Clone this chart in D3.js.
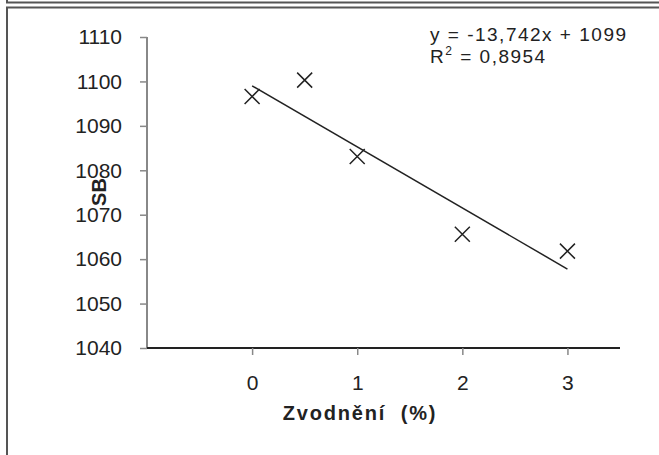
<!DOCTYPE html>
<html><head><meta charset="utf-8">
<script src="https://cdn.jsdelivr.net/npm/d3@7"></script>
<style>body{margin:0;background:#fff}svg{display:block;font-family:"Liberation Sans",Arial,sans-serif}</style>
</head><body>
<script>
const xValues = [0, 0.5, 1, 2, 3];
const yValues = [1096.6, 1100.3, 1083.1, 1065.6, 1061.8];
const xTicks = [0, 1, 2, 3];
const yTicks = [1040, 1050, 1060, 1070, 1080, 1090, 1100, 1110];
const trendSlope = -13.742;
const trendIntercept = 1099;
const eqLabel = "y = -13,742x + 1099";
const r2Label = "0,8954";
const xTitle = "Zvodnění  (%)";
const yTitle = "SB";

const W = 659, H = 455;
const FONT = "Liberation Sans, Arial, sans-serif";
const svg = d3.select("body").append("svg").attr("width", W).attr("height", H);

// frames
svg.append("path").attr("d", "M7,0V2.5H659").attr("fill","none").attr("stroke","#555").attr("stroke-width",2);
svg.append("path").attr("d", "M7,"+H+"V7.5H659").attr("fill","none").attr("stroke","#555").attr("stroke-width",2);

const x = d3.scaleLinear().domain([-1, 3.5]).range([147, 620]);
const y = d3.scaleLinear().domain([1040, 1110]).range([348, 37]);

// y axis
const ya = svg.append("g").attr("transform", "translate(147,0)")
  .call(d3.axisLeft(y).tickValues(yTicks).tickSize(7).tickPadding(18).tickFormat(d3.format("d")));
ya.attr("font-size", null).attr("font-family", null);
ya.select(".domain").attr("stroke","#888").attr("stroke-width",2).attr("d","M0,"+y(1110)+"V"+y(1040));
ya.selectAll(".tick line").attr("stroke","#888").attr("stroke-width",1.5);
ya.selectAll(".tick text").style("font-size","21px").attr("fill","#222").style("font-family",FONT);

// x axis
const xa = svg.append("g").attr("transform", "translate(0,348)")
  .call(d3.axisBottom(x).tickValues(xTicks).tickSize(7).tickPadding(20).tickFormat(d3.format("d")));
xa.attr("font-size", null).attr("font-family", null);
xa.select(".domain").attr("stroke","#222").attr("stroke-width",2).attr("d","M"+x(-1)+",0H"+x(3.5));
xa.selectAll(".tick line").attr("stroke","#888").attr("stroke-width",1.5);
xa.selectAll(".tick text").style("font-size","21px").attr("fill","#222").style("font-family",FONT);

// trend line
svg.append("line")
  .attr("x1", x(0)).attr("y1", y(trendIntercept))
  .attr("x2", x(3)).attr("y2", y(trendIntercept + trendSlope*3))
  .attr("stroke","#222").attr("stroke-width",1.5);

// markers
const s = 7.5;
svg.append("g").selectAll("path").data(xValues.map((v,i)=>[v,yValues[i]])).join("path")
  .attr("d", d => { const cx = x(d[0]), cy = y(d[1]);
    return `M${cx-s},${cy-s}L${cx+s},${cy+s}M${cx-s},${cy+s}L${cx+s},${cy-s}`; })
  .attr("stroke","#222").attr("stroke-width",1.5).attr("fill","none");

// titles
svg.append("text").attr("x", 360).attr("y", 420).attr("text-anchor","middle")
  .style("font-size","20px").attr("font-weight","bold").attr("fill","#222")
  .style("white-space","pre").style("letter-spacing","1.8px").text(xTitle);
svg.append("text").attr("transform","translate(106,192) rotate(-90)").attr("text-anchor","middle")
  .style("font-size","20px").attr("font-weight","bold").attr("fill","#222").text(yTitle);

// equation
svg.append("text").attr("x", 430).attr("y", 41).style("font-size","19px").style("letter-spacing","1.5px")
  .attr("fill","#222").text(eqLabel);
const r = svg.append("text").attr("x", 430).attr("y", 62.5).style("font-size","19px").style("letter-spacing","1.5px").attr("fill","#222");
r.append("tspan").text("R");
r.append("tspan").attr("dy",-8).style("font-size","12px").text("2");
r.append("tspan").attr("dy",8).text(" = " + r2Label);
</script>
</body></html>
